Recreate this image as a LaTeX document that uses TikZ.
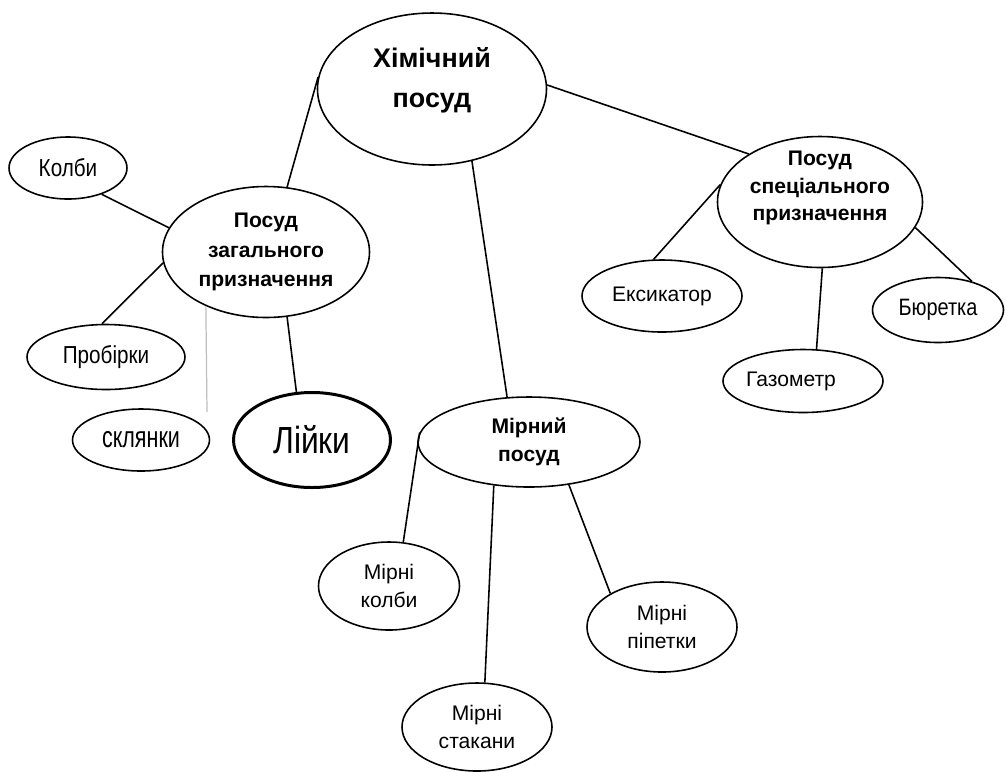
\documentclass[tikz,border=0pt]{standalone}
\usepackage{fontspec}
\setmainfont{Liberation Sans}
\newfontfamily\narrowfont[FakeStretch=0.84]{Liberation Sans}
\newfontfamily\tightfont[FakeStretch=0.72]{Liberation Sans}
\usetikzlibrary{shapes.geometric, scopes}

\begin{document}
\begin{tikzpicture}[x=0.2mm, y=-0.2mm,
		ell/.style={ellipse, draw, line width=0.9pt, inner sep=0pt, align=center},
		headtext/.style={font=\bfseries\fontsize{12}{17}\selectfont},
		leaftext/.style={font=\fontsize{12}{16}\selectfont}]
			\useasboundingbox (0,0) rectangle (1007,771);

			% root and the three groups
			\node[ell, minimum width=45.8mm, minimum height=30.4mm,
				label={[font=\bfseries\fontsize{15.3}{22.8}\selectfont, align=center, yshift=1.8mm]center:Хімічний\\посуд}] (chem) at (432,89) {};
			\node[ell, headtext, minimum width=41.4mm, minimum height=26.2mm] (gen) at (266,252) {Посуд\\загального\\призначення};
			\node[ell, headtext, font=\bfseries\fontsize{12}{16}\selectfont, minimum width=44.4mm, minimum height=18mm] (mir) at (529,442) {Мірний\\посуд};
			\node[ell, minimum width=41mm, minimum height=26.2mm,
				label={[font=\bfseries\fontsize{12}{15.6}\selectfont, align=center, yshift=2.8mm]center:Посуд\\спеціального\\призначення}] (spec) at (820,202) {};

			% leaves
			\node[ell, font=\narrowfont\fontsize{14}{16}\selectfont, minimum width=23.6mm, minimum height=12.4mm] (kolby) at (68,168) {Колби};
			\node[ell, font=\narrowfont\fontsize{14}{16}\selectfont, minimum width=31.6mm, minimum height=13mm] (prob) at (106,357) {Пробірки};
			\node[ell, font=\tightfont\fontsize{17}{19}\selectfont, minimum width=27.4mm, minimum height=12.4mm] (skl) at (141,440) {склянки};
			\node[ell, line width=1.7pt, font=\narrowfont\fontsize{21.5}{24}\selectfont, minimum width=31.4mm, minimum height=19mm] (lijky) at (312,440) {Лійки};

			\node[ell, leaftext, minimum width=28.2mm, minimum height=17.6mm] (mkol) at (389,586) {Мірні\\колби};
			\node[ell, leaftext, minimum width=30mm, minimum height=17.6mm] (mstak) at (477,727) {Мірні\\стакани};
			\node[ell, leaftext, minimum width=30mm, minimum height=18mm] (mpip) at (662,627) {Мірні\\піпетки};

			\node[ell, leaftext, minimum width=32mm, minimum height=14.4mm] (eks) at (662,296) {Ексикатор};
			\node[ell, minimum width=32mm, minimum height=12.6mm,
				label={[leaftext, xshift=-2.4mm]center:Газометр}] (gaz) at (803,381) {};
			\node[ell, font=\narrowfont\fontsize{13.5}{16}\selectfont, minimum width=26.2mm, minimum height=13mm] (bur) at (938,310) {Бюретка};

			\coordinate (sklTip) at (207,412);

			{ [line width=0.9pt]
				\draw (chem.174) -- (gen.72);
				\draw (chem.2) -- (spec.146);
				\draw (chem.299) -- (mir.116);

				\draw (gen.166) -- (kolby.-38);
				\draw (gen.186) -- (prob.97);
				\draw (gen.288) -- (lijky.108);
				\draw[gray!50, line width=0.7pt] (gen.222) -- (sklTip);

				\draw (mir.175) -- (mkol.72);
				\draw (mir.231) -- (mstak.80);
				\draw (mir.313) -- (mpip.147);

				\draw (spec.170) -- (eks.103);
				\draw (spec.272) -- (gaz.67);
				\draw (spec.345) -- (bur.40);
			}
		\end{tikzpicture}
\end{document}
